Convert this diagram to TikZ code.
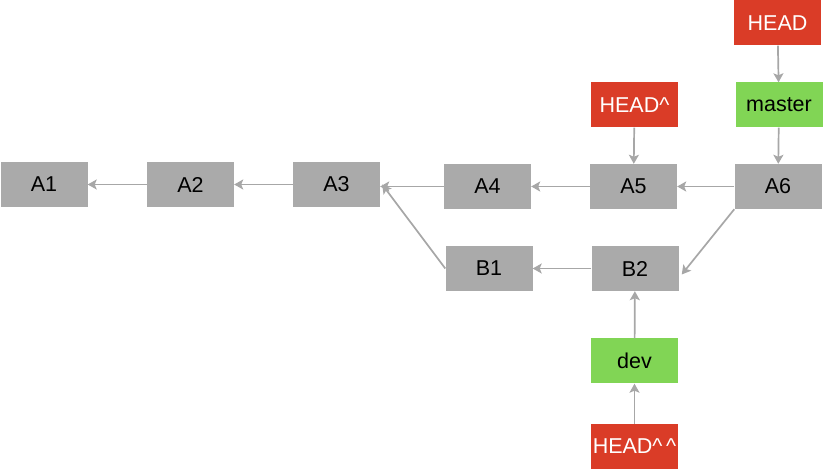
\documentclass[tikz,border=0pt]{standalone}
\usepackage{fontspec}
\setmainfont{Liberation Sans}
\usetikzlibrary{arrows.meta, positioning, calc}
\definecolor{gitgrey}{rgb}{0.667, 0.667, 0.667}
\definecolor{gitred}{rgb}{0.855, 0.235, 0.153}
\definecolor{gitgreen}{rgb}{0.506, 0.835, 0.333}
\definecolor{gitline}{rgb}{0.655, 0.655, 0.655}

\begin{document}
\begin{tikzpicture}[x=1pt, y=-1pt,
        box/.style={inner sep=0pt, minimum width=87pt, minimum height=45pt, font=\fontsize{21.5}{24}\selectfont},
        commit/.style={box, fill=gitgrey, text=black},
        branch/.style={box, fill=gitgreen, text=black},
        headref/.style={box, fill=gitred, text=white},
        link/.style={line width=1.7pt, color=gitline, -{Stealth[length=9pt, width=10pt, inset=2pt]}}]
        \useasboundingbox (0,0) rectangle (823,470);

        \node (A1) [commit] at (44,184.5) {A1};
        \node (A2) [commit] at (190.5,184.5) {A2};
        \node (A3) [commit] at (336.5,184.5) {A3};
        \node (A4) [commit] at (487.5,186.5) {A4};
        \node (A5) [commit] at (633.5,186.5) {A5};
        \node (A6) [commit] at (778,186.5) {A6};

        \node (B1) [commit] at (489,268.5) {B1};
        \node (B2) [commit] at (635,268.5) {B2};

        \node (master) [branch] at (779,105) {master};
        \node (dev)    [branch] at (634.5,361) {dev};

        \node (HEAD)   [headref] at (777.5,23) {HEAD};
        \node (HEADp)  [headref] at (634.5,105) {HEAD\textasciicircum};
        \node (HEADpp) [headref] at (634.5,446.5) {HEAD\textasciicircum\,\textasciicircum};

        \draw [link] (A2) -- (A1);
        \draw [link] (A3) -- (A2);
        \draw [link] (A4.west) -- (A3.east |- A4.west);
        \draw [link] (A5) -- (A4);
        \draw [link] (A6) -- (A5);
        \draw [link] (B1.west) -- ($(A3.east)+(2,0)$);
        \draw [link] (B2) -- (B1);
        \draw [link] (A6.south west) -- ($(B2.east)+(3,6)$);

        \draw [link] (HEAD) -- (master);
        \draw [link] (master) -- (A6);
        \draw [link] (HEADp) -- (A5);
        \draw [link] (dev) -- (B2);
        \draw [link] (HEADpp) -- (dev);
\end{tikzpicture}
\end{document}
